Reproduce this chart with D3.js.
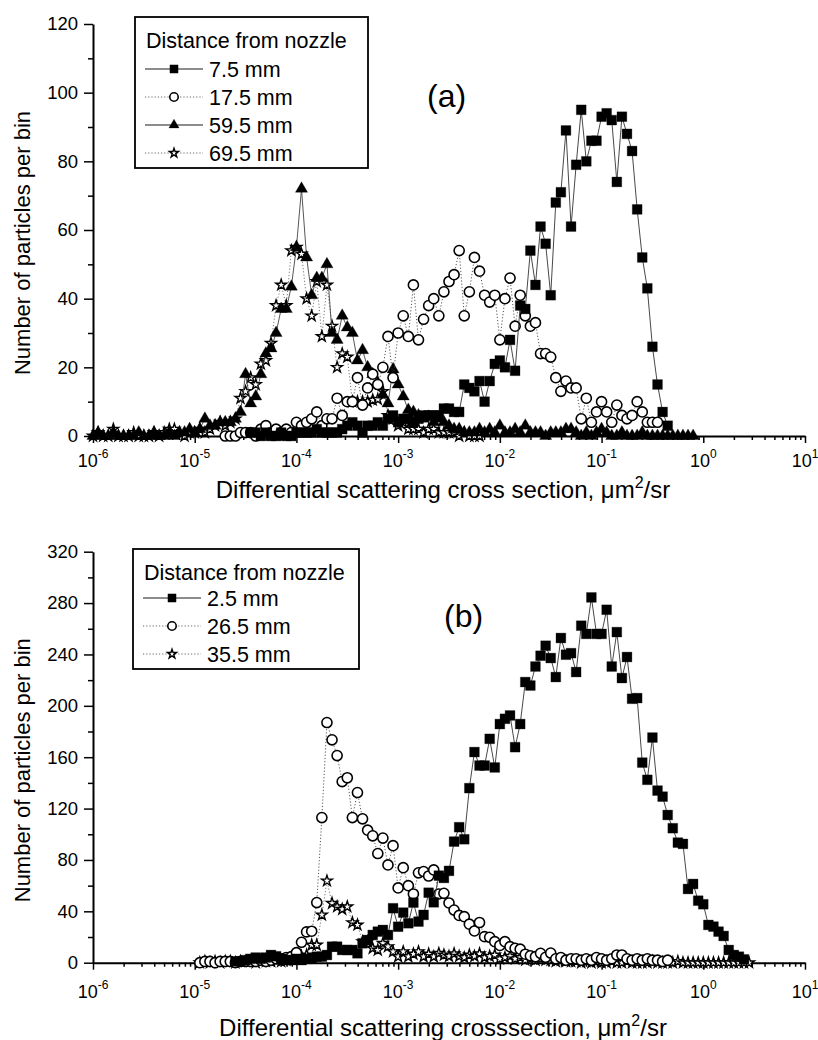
<!DOCTYPE html>
<html>
<head>
<meta charset="utf-8">
<script src="https://cdn.jsdelivr.net/npm/d3@7"></script>
<style>
  body { margin: 0; background: #fff; }
  svg { display: block; }
  text { font-family: "Liberation Sans", Arial, sans-serif; fill: #000; }
</style>
</head>
<body>
<svg id="chart" width="818" height="1040"></svg>
<script>
// bins are log10 of the cross section, 20 bins per decade
var binStep = 0.05;

// ---- panel (a) ----
var a75Start = -4.45;
var a75 = [1,1,0,1,0,0,1,0,0,1,
           1,1,1,2,1,1,1,1,2,3,
           4,3,1,3,3,4,3,5,6,4,
           5,5,4,5,6,6,6,6,8,8,
           7,7,15,14,13,16,10,16,21,22,
           20,28,19,38,37,54,44,61,56,41,
           68,71,89,61,79,95,80,86,86,93,
           94,92,74,93,88,83,66,52,43,26,
           15,7,3];

var a175Start = -4.70;
var a175 = [0,0,0,1,1,1,0,2,3,1,
            2,1,2,1,4,3,4,5,7,3,
            5,5,11,6,10,10,17,9,14,18,
            15,20,29,17,30,35,29,44,28,34,
            38,40,35,42,45,47,54,35,42,52,
            48,41,39,41,28,40,46,32,41,35,
            32,33,24,24,23,17,13,16,14,14,
            5,11,4,7,10,7,4,9,6,5,
            6,10,7,4,4,4];

var a595Start = -6.00;
var a595 = [0,1,0,0,1,0,0,0,0,1,
            0,0,1,0,0,1,0,1,1,2,
            1,2,5,3,3,4,4,4,5,7,
            18,9.5,11.5,18,24,25.5,30,37,37,43.5,
            55,72,52,41,46,46,50,30,28,35,
            31.6,30,22,25,20,18,15.4,12,9.5,19.4,
            15,11.5,7.6,7,6,5,5.6,4,5,4,
            3,2,2,1,1,1,2,1,2,1,
            3,1,1,2,1,3,1,1,1,0,
            1,1,1,2,2,1,0,1,0,1,
            2,1,0,0,1,0,0,0,1,0,
            0,0,0,0,0,0,0,0,0];

var a695Start = -6.00;
var a695 = [0,1,0,0,2,0,0,0,1,0,
            0,0,1,0,1,2,2,1,0,1,
            1,2,1,2,3,4,3,4,5,11,
            13,17,15,21,22,27,38,44,38,54,
            55,53,40,35,45,29,44,32,20,24,
            23,10,10,10,10,10.5,10.7,13,6,5,
            3,4,2,2,2,1,2,2,1,1,
            1,1,0,1,0,0,0];

// ---- panel (b) ----
var b25Start = -4.60;
var b25 = [1,1,2,3,4,3,4,6,5,3,
           2,2,3,2,3,3.4,4.7,4.7,6,12.5,
           12.5,9.9,9.9,9.9,7.3,15.1,17.7,21.6,24.2,25.5,
           21.6,42.4,28,39,30.7,46.8,32,37.2,54.5,47,
           67.8,66,71.5,94.3,105.5,96.1,135.9,164,153.5,153.5,
           174.3,152,185.8,189.9,192.5,167.8,185.8,218.5,215.8,230.6,
           239,246.8,237.2,222.4,252.8,239.8,241,226.3,262.4,256,
           284.4,256,256,274.8,230.6,257.4,221.6,238,205.5,206,
           155.8,142.4,175.3,134,129.3,115,104.7,93.5,92.5,57.4,
           61.3,48.3,45.5,29.4,28.1,24.2,20.8,9.9,6,4.7,
           2.6];

var b265Start = -4.95;
var b265 = [0,1,1,0,1,1,1,0,1,1,
            1,1,2,1,2,3,3,4,4.7,7.8,
            15.9,24,24.5,46.8,113,187,173.5,161.3,141,144,
            113,132.5,112,103.2,98.8,85,97,76.1,91.1,58.2,
            74,60,53.5,70,71,67.5,72.2,53.5,54,46.5,
            41,36.8,35.8,30,24.7,31.3,20.3,19.8,16.4,13.4,
            16.4,12.5,11.2,10.5,6.6,5.4,4.7,7.3,4.2,7.5,
            3,4,2,3,3,2,3,2,4,3,
            2,3,6,6,3,2,3,2,3,2,
            2,1,2];

var b355Start = -4.95;
var b355 = [0,1,0,1,0,1,1,0,1,1,
            1,0,1,1,1,2,1,2,3,4,
            5,6,13.8,13.8,37.2,63.7,46.3,43.6,41.6,43.6,
            31.2,29.4,16.4,16.4,11.2,9.9,15.1,12.5,8.6,4.7,
            8.6,4.7,6.8,8.6,4.7,6.8,4.7,7.3,6,5,
            7,5,4,6,5,7,4,5,6,3,
            4,5,3,4,2,3,2,3,2,2,
            1,2,1,1,1,0,1,0,1,0,
            0,1,0,0,1,0,0,0,0,1,
            0,0,0,0,1,0,0,0,0,0,
            0,0,0,0,0,0,0,0,0];

var xDecades = [-6,-5,-4,-3,-2,-1,0,1];
var yTicksA = [0,20,40,60,80,100,120];
var yTicksB = [0,40,80,120,160,200,240,280,320];

var legendTitle = "Distance from nozzle";

var svg = d3.select("#chart");

// turn start + counts into points
function toPoints(start, counts) {
  return counts.map(function(v, i) {
    return { x: Math.pow(10, start + i * binStep), v: v };
  });
}

var styles = {
  square:   { type: d3.symbolSquare,   size: 96, fill: "#000", stroke: "#000", sw: 0.3, dash: null,  line: "#333" },
  circle:   { type: d3.symbolCircle,   size: 80, fill: "#fff", stroke: "#000", sw: 1.6, dash: "1.2,2", line: "#444" },
  triangle: { type: d3.symbolTriangle, size: 64, fill: "#000", stroke: "#000", sw: 0.3, dash: null,  line: "#444" },
  star:     { type: d3.symbolStar,     size: 36, fill: "#fff", stroke: "#000", sw: 1.4, dash: "1.2,2", line: "#666" }
};

function drawPanel(p) {
  var x = d3.scaleLog().domain([1e-6, 10]).range([93, 805]);
  var y = d3.scaleLinear().domain([0, p.yMax]).range([p.bottom, p.top]);

  var g = svg.append("g");

  // minor x ticks
  var minors = [];
  xDecades.slice(0, -1).forEach(function(d) {
    for (var k = 2; k <= 9; k++) minors.push(k * Math.pow(10, d));
  });
  g.append("g")
    .attr("transform", "translate(0," + p.bottom + ")")
    .call(d3.axisBottom(x).tickValues(minors).tickSize(4).tickSizeOuter(0).tickFormat(""))
    .call(function(s) { s.select(".domain").remove(); s.selectAll("line").attr("stroke-width", 1.5); });

  var xAx = g.append("g")
    .attr("transform", "translate(0," + p.bottom + ")")
    .call(d3.axisBottom(x).tickValues(xDecades.map(function(d) { return Math.pow(10, d); }))
      .tickSize(7).tickSizeOuter(0).tickFormat(""));
  xAx.select(".domain").attr("stroke-width", 2);
  xAx.selectAll("line").attr("stroke-width", 1.5);

  // 10^n labels
  g.selectAll(".xlab").data(xDecades).enter().append("text")
    .attr("class", "xlab")
    .attr("x", function(d) { return x(Math.pow(10, d)); })
    .attr("y", p.bottom + p.xLabGap)
    .attr("text-anchor", "middle")
    .style("font-size", "18px")
    .each(function(d) {
      var t = d3.select(this);
      t.append("tspan").text("10");
      t.append("tspan").attr("dy", -9).style("font-size", "12px").text(d);
    });

  // y axis
  var yMinor = [];
  for (var i = 0; i < p.yTicks.length - 1; i++) yMinor.push((p.yTicks[i] + p.yTicks[i + 1]) / 2);
  g.append("g")
    .attr("transform", "translate(93,0)")
    .call(d3.axisLeft(y).tickValues(yMinor).tickSize(5).tickSizeOuter(0).tickFormat(""))
    .call(function(s) { s.select(".domain").remove(); s.selectAll("line").attr("stroke-width", 1.5); });

  var yAx = g.append("g")
    .attr("transform", "translate(93,0)")
    .call(d3.axisLeft(y).tickValues(p.yTicks).tickSize(9).tickSizeOuter(0).tickPadding(6));
  yAx.select(".domain").attr("stroke-width", 2);
  yAx.selectAll("line").attr("stroke-width", 1.5);
  yAx.selectAll("text").style("font-size", "18.5px").style("font-family", "'Liberation Sans', Arial, sans-serif");

  // titles
  g.append("text")
    .attr("transform", "translate(30," + ((p.top + p.bottom) / 2 + 13) + ") rotate(-90)")
    .attr("text-anchor", "middle")
    .style("font-size", "22px")
    .text("Number of particles per bin");

  var xt = g.append("text")
    .attr("x", 443).attr("y", p.bottom + p.xTitleGap)
    .attr("text-anchor", "middle")
    .style("font-size", "24px");
  xt.append("tspan").text(p.xTitle + ", \u03bcm");
  xt.append("tspan").attr("dy", -10).style("font-size", "16px").text("2");
  xt.append("tspan").attr("dy", 10).text("/sr");

  g.append("text")
    .attr("x", p.tagX).attr("y", p.tagY)
    .style("font-size", "32px")
    .text(p.tag);

  // series, first one drawn last so it sits on top
  var line = d3.line()
    .x(function(d) { return x(d.x); })
    .y(function(d) { return y(d.v); });

  p.series.slice().reverse().forEach(function(s) {
    var st = styles[s.marker];
    var pts = toPoints(s.start, s.values);
    g.append("path")
      .datum(pts)
      .attr("d", line)
      .attr("fill", "none")
      .attr("stroke", st.line)
      .attr("stroke-width", 0.9)
      .attr("stroke-dasharray", st.dash);
    g.append("g").selectAll("path").data(pts).enter().append("path")
      .attr("transform", function(d) { return "translate(" + x(d.x) + "," + y(d.v) + ")"; })
      .attr("d", d3.symbol().type(st.type).size(st.size))
      .attr("fill", st.fill)
      .attr("stroke", st.stroke)
      .attr("stroke-width", st.sw);
  });

  // legend
  var L = p.legend;
  var lg = g.append("g");
  lg.append("rect")
    .attr("x", L.x).attr("y", L.y).attr("width", L.w).attr("height", L.h)
    .attr("fill", "#fff").attr("stroke", "#000").attr("stroke-width", 1.8);
  lg.append("text")
    .attr("x", L.x + 11).attr("y", L.y + 31)
    .style("font-size", "21.5px")
    .text(legendTitle);
  p.series.forEach(function(s, i) {
    var st = styles[s.marker];
    var cy = L.y + L.row0 + i * L.rowH;
    lg.append("line")
      .attr("x1", L.x + 10).attr("x2", L.x + 68)
      .attr("y1", cy).attr("y2", cy)
      .attr("stroke", s.marker == "square" || s.marker == "triangle" ? "#000" : "#555")
      .attr("stroke-width", 0.9)
      .attr("stroke-dasharray", st.dash);
    lg.append("path")
      .attr("transform", "translate(" + (L.x + 39) + "," + cy + ")")
      .attr("d", d3.symbol().type(st.type).size(st.size * 0.7))
      .attr("fill", st.fill).attr("stroke", st.stroke).attr("stroke-width", st.sw);
    lg.append("text")
      .attr("x", L.x + 74).attr("y", cy + 8)
      .style("font-size", "21.5px")
      .text(s.name);
  });
}

drawPanel({
  yMax: 120, top: 24, bottom: 436, yTicks: yTicksA,
  xLabGap: 31, xTitleGap: 62,
  xTitle: "Differential scattering cross section",
  tag: "(a)", tagX: 427, tagY: 107,
  legend: { x: 135, y: 17, w: 233, h: 151, row0: 52, rowH: 28 },
  series: [
    { name: "7.5 mm",  marker: "square",   start: a75Start,  values: a75 },
    { name: "17.5 mm", marker: "circle",   start: a175Start, values: a175 },
    { name: "59.5 mm", marker: "triangle", start: a595Start, values: a595 },
    { name: "69.5 mm", marker: "star",     start: a695Start, values: a695 }
  ]
});

drawPanel({
  yMax: 320, top: 551.7, bottom: 962.7, yTicks: yTicksB,
  xLabGap: 35, xTitleGap: 73,
  xTitle: "Differential scattering crosssection",
  tag: "(b)", tagX: 444, tagY: 627,
  legend: { x: 133, y: 549, w: 226, h: 120, row0: 49, rowH: 28 },
  series: [
    { name: "2.5 mm",  marker: "square", start: b25Start,  values: b25 },
    { name: "26.5 mm", marker: "circle", start: b265Start, values: b265 },
    { name: "35.5 mm", marker: "star",   start: b355Start, values: b355 }
  ]
});
</script>
</body>
</html>
